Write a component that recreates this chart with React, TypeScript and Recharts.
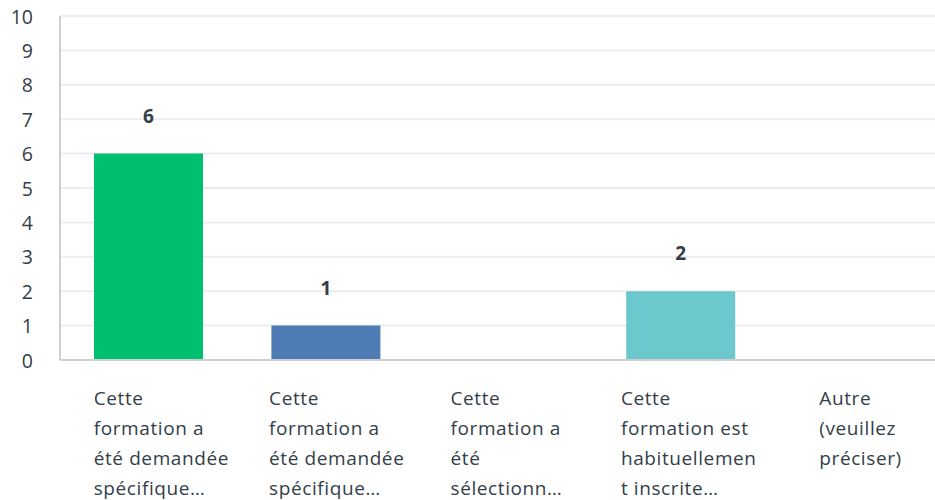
import React from 'react';
import { BarChart, Bar, XAxis, YAxis, CartesianGrid, LabelList, Cell } from 'recharts';

// answer categories (as shown, wrapped and truncated)
const categories = [
  'Cette\nformation a\nété demandée\nspécifique…',
  'Cette\nformation a\nété demandée\nspécifique…',
  'Cette\nformation a\nété\nsélectionn…',
  'Cette\nformation est\nhabituellemen\nt inscrite…',
  'Autre\n(veuillez\npréciser)',
];
const counts = [6, 1, 0, 2, 0];
const barColors = ['#00bf6f', '#507cb6', '#f9be00', '#6bc8cd', '#ff8b4f'];
const yTicks = [0, 1, 2, 3, 4, 5, 6, 7, 8, 9, 10];

// horizontal nudge of each wrapped label, relative to the band centre
const labelShift = [-55, -57, -53, -60, -39];

const TEXT = '#333e48';
const FONT = '"Open Sans", "DejaVu Sans", sans-serif';

const data = categories.map((name, i) => ({ name, value: counts[i] }));

const YTick = (props: any) => {
  const { y, payload } = props;
  return (
    <text x={33} y={y} textAnchor="end" dominantBaseline="central" fill={TEXT} fontSize={19.5} fontFamily={FONT}>
      {payload.value}
    </text>
  );
};

const XTick = (props: any) => {
  const { x, y, payload, index } = props;
  const lines = String(payload.value).split('\n');
  return (
    <g>
      {lines.map((line, i) => (
        <text
          key={i}
          x={x + labelShift[index]}
          y={y + 38 + i * 30}
          textAnchor="start"
          dominantBaseline="central"
          fill={TEXT}
          fontSize={19}
          fontFamily={FONT}
          letterSpacing={0.6}
        >
          {line}
        </text>
      ))}
    </g>
  );
};

const ValueLabel = (props: any) => {
  const { x, y, width, value } = props;
  if (!value) return null;
  return (
    <text x={x + width / 2} y={y - 38} textAnchor="middle" dominantBaseline="central" fill={TEXT} fontSize={19} fontWeight={700} fontFamily={FONT}>
      {value}
    </text>
  );
};

export default function App() {
  return (
    <div style={{ position: 'absolute', left: 0, top: 0, width: 935, height: 500, overflow: 'hidden', background: '#fff' }}>
      <BarChart width={947} height={500} data={data} margin={{ top: 16, right: 0, left: 0, bottom: 0 }}>
        <CartesianGrid vertical={false} stroke="#ededed" strokeWidth={2} />
        <XAxis
          dataKey="name"
          height={140}
          interval={0}
          tickLine={false}
          tickSize={0}
          tickMargin={0}
          axisLine={{ stroke: '#cfcfcf', strokeWidth: 2 }}
          tick={<XTick />}
        />
        <YAxis
          width={60}
          domain={[0, 10]}
          ticks={yTicks}
          interval={0}
          tickLine={false}
          axisLine={{ stroke: '#cfcfcf', strokeWidth: 2 }}
          tick={<YTick />}
        />
        <Bar dataKey="value" barSize={109} isAnimationActive={false}>
          {data.map((d, i) => (
            <Cell key={i} fill={barColors[i]} />
          ))}
          <LabelList dataKey="value" content={<ValueLabel />} />
        </Bar>
      </BarChart>
    </div>
  );
}
